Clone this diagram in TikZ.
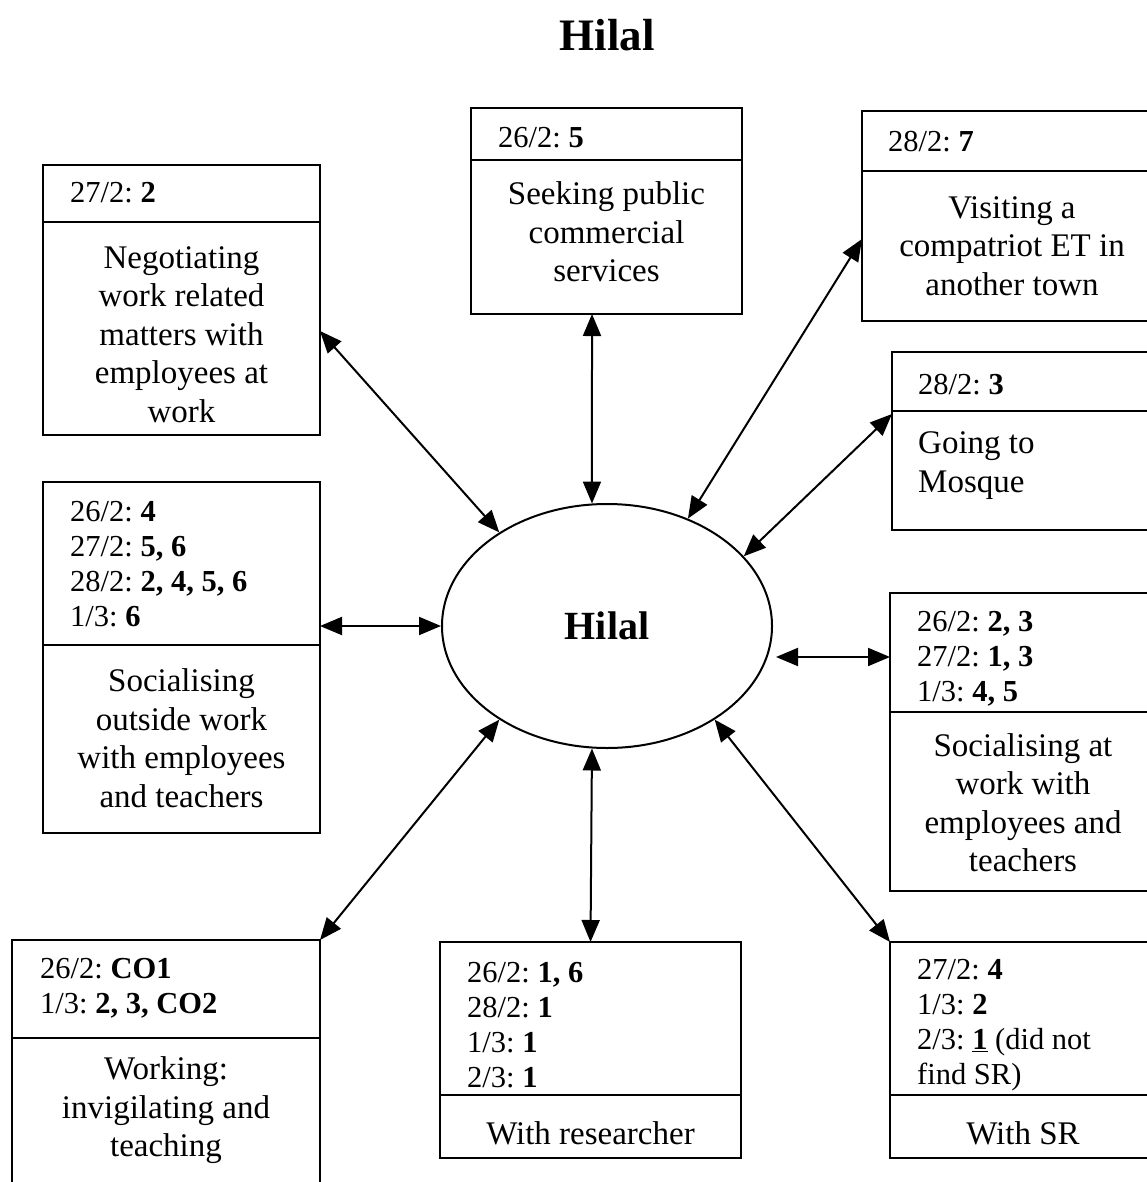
\documentclass[tikz,border=0pt]{standalone}
\usepackage{fontspec}
\setmainfont{Liberation Serif}
\usetikzlibrary{arrows.meta,shapes.geometric}
\begin{document}
\frenchspacing
\begin{tikzpicture}[x=1pt,y=-1pt,
  boxst/.style={draw,line width=2pt,inner sep=0pt,outer sep=0pt},
  divst/.style={line width=2pt},
  datest/.style={font=\fontsize{30.5}{35}\selectfont\frenchspacing,align=left,anchor=west,inner sep=0pt},
  descst/.style={font=\fontsize{33}{38.5}\selectfont,align=center,inner sep=0pt},
  arr/.style={line width=2pt,{Triangle[length=22pt,width=18pt]}-{Triangle[length=22pt,width=18pt]}}]
\useasboundingbox (0,0) rectangle (1147,1182);
\fill[white] (0,0) rectangle (1147,1182);
\clip (0,0) rectangle (1147,1182);

\node (title) at (607,35) {\fontsize{45}{54}\selectfont\bfseries Hilal};

\node[draw,ellipse,line width=2pt,minimum width=330pt,minimum height=244pt,inner sep=0pt] (hilal) at (607,626) {\fontsize{40}{48}\selectfont\bfseries Hilal};

% boxes
\node[boxst,minimum width=277pt,minimum height=270pt] (neg) at (181.5,300) {};
\draw[divst] (neg.west |- 0,222) -- (neg.east |- 0,222);
\node[datest] (negd) at (70,193) {27/2: \textbf{2}};
\node[descst] (negt) at (181.5,334.5) {Negotiating\\work related\\matters with\\employees at\\work};

\node[boxst,minimum width=271pt,minimum height=206pt] (seek) at (606.5,211) {};
\draw[divst] (seek.west |- 0,160) -- (seek.east |- 0,160);
\node[datest] (seekd) at (498,138) {26/2: \textbf{5}};
\node[descst] (seekt) at (606.5,232) {Seeking public\\commercial\\services};

\node[boxst,minimum width=300pt,minimum height=210pt] (visit) at (1012,216) {};
\draw[divst] (visit.west |- 0,171) -- (visit.east |- 0,171);
\node[datest] (visitd) at (888,142) {28/2: \textbf{7}};
\node[descst] (visitt) at (1012,246) {Visiting a\\compatriot ET in\\another town};

\node[boxst,minimum width=270pt,minimum height=178pt] (mosq) at (1027,441) {};
\draw[divst] (mosq.west |- 0,411) -- (mosq.east |- 0,411);
\node[datest] (mosqd) at (918,385) {28/2: \textbf{3}};
\node[descst,align=left,anchor=west] (mosqt) at (918,465.5) {Going to\\Mosque};

\node[boxst,minimum width=277pt,minimum height=351pt] (socout) at (181.5,657.5) {};
\draw[divst] (socout.west |- 0,645) -- (socout.east |- 0,645);
\node[datest] (socoutd) at (70,564.5) {26/2: \textbf{4}\\27/2: \textbf{5, 6}\\28/2: \textbf{2, 4, 5, 6}\\1/3: \textbf{6}};
\node[descst] (socoutt) at (181.5,738) {Socialising\\outside work\\with employees\\and teachers};

\node[boxst,minimum width=270pt,minimum height=298pt] (socwork) at (1025,741.5) {};
\draw[divst] (socwork.west |- 0,712) -- (socwork.east |- 0,712);
\node[datest] (socworkd) at (917,658.5) {26/2: \textbf{2, 3}\\27/2: \textbf{1, 3}\\1/3: \textbf{4, 5}};
\node[descst] (socworkt) at (1023,802.5) {Socialising at\\work with\\employees and\\teachers};

\node[boxst,minimum width=308pt,minimum height=255pt] (work) at (166,1067.5) {};
\draw[divst] (work.west |- 0,1038) -- (work.east |- 0,1038);
\node[datest] (workd) at (40,988.5) {26/2: \textbf{CO1}\\1/3: \textbf{2, 3, CO2}};
\node[descst] (workt) at (166,1110.5) {Working:\\invigilating and\\teaching};

\node[boxst,minimum width=301pt,minimum height=216pt] (res) at (590.5,1050) {};
\draw[divst] (res.west |- 0,1095) -- (res.east |- 0,1095);
\node[datest] (resd) at (467,1025.5) {26/2: \textbf{1, 6}\\28/2: \textbf{1}\\1/3: \textbf{1}\\2/3: \textbf{1}};
\node[descst] (rest) at (590.5,1133) {With researcher};

\node[boxst,minimum width=270pt,minimum height=216pt] (sr) at (1025,1050) {};
\draw[divst] (sr.west |- 0,1095) -- (sr.east |- 0,1095);
\node[datest] (srd) at (917,1025.5) {27/2: \textbf{4}\\1/3: \textbf{2}\\2/3: \underline{\textbf{1}} (did not\\find SR)};
\node[descst] (srt) at (1023,1133) {With SR};

% connectors
\draw[arr] ([yshift=-31pt]neg.east) -- (hilal.139);
\draw[arr] ([xshift=-14.5pt]seek.south) -- (hilal.97);
\draw[arr] ([yshift=-23pt]visit.west) -- (hilal.53);
\draw[arr] ([yshift=27pt]mosq.west) -- (hilal.27);
\draw[arr] ([yshift=31.5pt]socout.east) -- (hilal.west);
\draw[arr] ([yshift=84.5pt]socwork.west) -- ([yshift=-31pt,xshift=3pt]hilal.east);
\draw[arr] (work.north east) -- (hilal.221);
\draw[arr] (res.north) -- (hilal.263);
\draw[arr] (sr.north west) -- (hilal.319);
\end{tikzpicture}
\end{document}
